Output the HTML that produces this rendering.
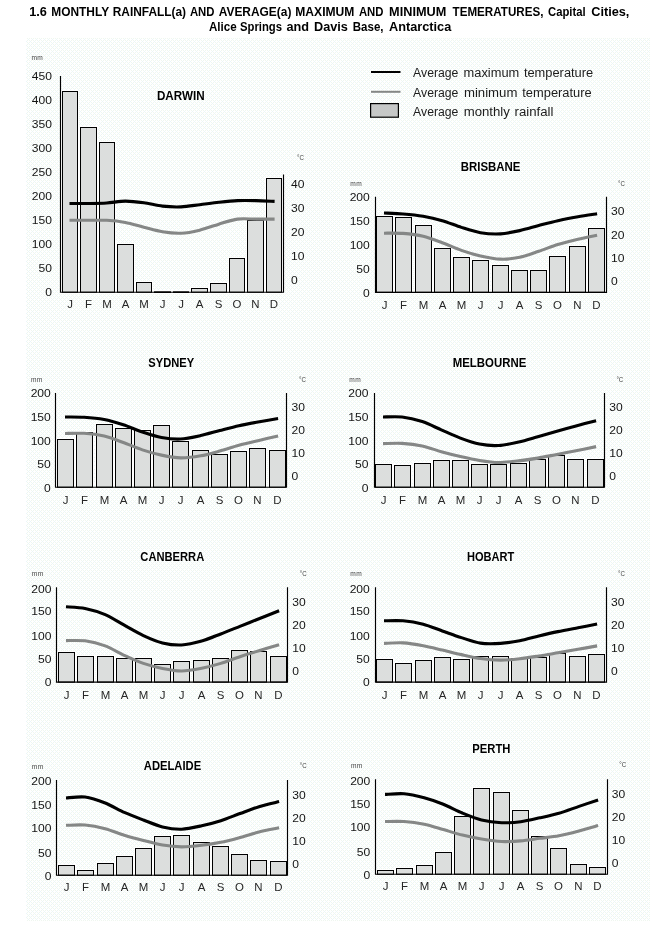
<!DOCTYPE html>
<html lang="en">
<head>
<meta charset="utf-8">
<title>1.6 Monthly rainfall and average maximum and minimum temperatures</title>
<style>
html,body{margin:0;padding:0;background:#fff;}
body{width:650px;height:937px;overflow:hidden;font-family:"Liberation Sans",sans-serif;}
svg{display:block;}
svg text{font-family:"Liberation Sans",sans-serif;}
.hd{font-size:12px;font-weight:bold;fill:#000;}
.lg{font-size:12px;fill:#1c1c1c;}
.ax{font-size:11.3px;fill:#141414;}
.mo{font-size:10.6px;fill:#262626;}
.sm{font-size:6.6px;fill:#444;letter-spacing:0.35px;}
.dc{font-size:6.8px;fill:#444;}
.ct{font-size:12px;font-weight:bold;fill:#000;}
</style>
</head>
<body>
<svg width="650" height="937" viewBox="0 0 650 937">
<rect x="0" y="0" width="650" height="937" fill="#fff"/>
<defs>
<pattern id="dither" x="0" y="0" width="4" height="4" patternUnits="userSpaceOnUse">
<rect width="4" height="4" fill="#fff"/>
<rect x="1" y="0" width="1" height="1" fill="#eff7ef"/>
<rect x="3" y="0" width="1" height="1" fill="#eff7ef"/>
<rect x="1" y="2" width="1" height="1" fill="#eff7ef"/>
<rect x="3" y="2" width="1" height="1" fill="#eff7ef"/>
<rect x="2" y="1" width="1" height="1" fill="#ebf6f9"/>
<rect x="0" y="3" width="1" height="1" fill="#ebf6f9"/>
</pattern>
</defs>
<rect x="26" y="38" width="624" height="883" fill="url(#dither)" shape-rendering="crispEdges"/>
<text class="hd" y="16"><tspan x="29.2" textLength="17.7" lengthAdjust="spacingAndGlyphs">1.6</tspan> <tspan x="51.3" textLength="57.6" lengthAdjust="spacingAndGlyphs">MONTHLY</tspan> <tspan x="112.7" textLength="73.4" lengthAdjust="spacingAndGlyphs">RAINFALL(a)</tspan> <tspan x="189.9" textLength="24.6" lengthAdjust="spacingAndGlyphs">AND</tspan> <tspan x="218.7" textLength="72.7" lengthAdjust="spacingAndGlyphs">AVERAGE(a)</tspan> <tspan x="295.3" textLength="59.1" lengthAdjust="spacingAndGlyphs">MAXIMUM</tspan> <tspan x="358.9" textLength="24.6" lengthAdjust="spacingAndGlyphs">AND</tspan> <tspan x="389.1" textLength="57.2" lengthAdjust="spacingAndGlyphs">MINIMUM</tspan> <tspan x="452.6" textLength="90.8" lengthAdjust="spacingAndGlyphs">TEMERATURES,</tspan> <tspan x="548.0" textLength="37.6" lengthAdjust="spacingAndGlyphs">Capital</tspan> <tspan x="591.2" textLength="38.2" lengthAdjust="spacingAndGlyphs">Cities,</tspan></text>
<text class="hd" y="30.6"><tspan x="209.0" textLength="27.7" lengthAdjust="spacingAndGlyphs">Alice</tspan> <tspan x="240.0" textLength="42.0" lengthAdjust="spacingAndGlyphs">Springs</tspan> <tspan x="286.4" textLength="22.6" lengthAdjust="spacingAndGlyphs">and</tspan> <tspan x="314.0" textLength="33.9" lengthAdjust="spacingAndGlyphs">Davis</tspan> <tspan x="352.8" textLength="30.7" lengthAdjust="spacingAndGlyphs">Base,</tspan> <tspan x="389.0" textLength="62.2" lengthAdjust="spacingAndGlyphs">Antarctica</tspan></text>
<g>
<line x1="371" y1="72" x2="400.5" y2="72" stroke="#000" stroke-width="2"/>
<line x1="371" y1="91.8" x2="400.5" y2="91.8" stroke="#858786" stroke-width="2"/>
<rect x="370.6" y="103.6" width="27.8" height="13.6" fill="#c6c8c7" stroke="#000" stroke-width="1.2"/>
<text class="lg" y="76.7"><tspan x="413.1" textLength="45.3" lengthAdjust="spacingAndGlyphs">Average</tspan> <tspan x="463.6" textLength="55.7" lengthAdjust="spacingAndGlyphs">maximum</tspan> <tspan x="523.9" textLength="69.3" lengthAdjust="spacingAndGlyphs">temperature</tspan></text>
<text class="lg" y="96.6"><tspan x="413.1" textLength="45.3" lengthAdjust="spacingAndGlyphs">Average</tspan> <tspan x="463.9" textLength="53.5" lengthAdjust="spacingAndGlyphs">minimum</tspan> <tspan x="522.3" textLength="69.4" lengthAdjust="spacingAndGlyphs">temperature</tspan></text>
<text class="lg" y="116.0"><tspan x="413.1" textLength="45.3" lengthAdjust="spacingAndGlyphs">Average</tspan> <tspan x="463.7" textLength="46.2" lengthAdjust="spacingAndGlyphs">monthly</tspan> <tspan x="514.6" textLength="38.9" lengthAdjust="spacingAndGlyphs">rainfall</tspan></text>
</g>
<g>
<rect x="61" y="90" width="18" height="203.7" fill="#fff"/>
<rect x="79" y="126" width="19" height="167.7" fill="#fff"/>
<rect x="98" y="141" width="18" height="152.7" fill="#fff"/>
<rect x="116" y="243" width="19" height="50.7" fill="#fff"/>
<rect x="135" y="281" width="18" height="12.7" fill="#fff"/>
<rect x="153" y="290.2" width="19" height="3.5" fill="#fff"/>
<rect x="172" y="290.2" width="18" height="3.5" fill="#fff"/>
<rect x="190" y="287" width="19" height="6.7" fill="#fff"/>
<rect x="209" y="282" width="19" height="11.7" fill="#fff"/>
<rect x="228" y="257" width="18" height="36.7" fill="#fff"/>
<rect x="246" y="219" width="19" height="74.7" fill="#fff"/>
<rect x="265" y="177" width="18" height="116.7" fill="#fff"/>
<rect x="62.5" y="91.5" width="15" height="200.7" fill="#dcdedd" stroke="#000" stroke-width="1"/>
<rect x="80.5" y="127.5" width="16" height="164.7" fill="#dcdedd" stroke="#000" stroke-width="1"/>
<rect x="99.5" y="142.5" width="15" height="149.7" fill="#dcdedd" stroke="#000" stroke-width="1"/>
<rect x="117.5" y="244.5" width="16" height="47.7" fill="#dcdedd" stroke="#000" stroke-width="1"/>
<rect x="136.5" y="282.5" width="15" height="9.7" fill="#dcdedd" stroke="#000" stroke-width="1"/>
<rect x="154" y="291.3" width="17" height="1.7" fill="#000"/>
<rect x="173" y="291.3" width="16" height="1.7" fill="#000"/>
<rect x="191.5" y="288.5" width="16" height="3.7" fill="#dcdedd" stroke="#000" stroke-width="1"/>
<rect x="210.5" y="283.5" width="16" height="8.7" fill="#dcdedd" stroke="#000" stroke-width="1"/>
<rect x="229.5" y="258.5" width="15" height="33.7" fill="#dcdedd" stroke="#000" stroke-width="1"/>
<rect x="247.5" y="220.5" width="16" height="71.7" fill="#dcdedd" stroke="#000" stroke-width="1"/>
<rect x="266.5" y="178.5" width="15" height="113.7" fill="#dcdedd" stroke="#000" stroke-width="1"/>
<path d="M60.5 76V292.2H283.5V174.5" fill="none" stroke="#000" stroke-width="1.15"/>
<path d="M69.5 220.3C72.16 220.3 82.79 220.3 88.1 220.3C93.41 220.3 101.39 219.99 106.7 220.3C112.01 220.61 119.99 221.47 125.3 222.46C130.61 223.45 138.59 225.92 143.9 227.26C149.21 228.6 157.19 230.96 162.5 231.82C167.81 232.68 175.79 233.5 181.1 233.26C186.41 233.02 194.31 231.44 199.7 230.14C205.09 228.84 213.41 225.72 218.8 224.14C224.19 222.56 232.09 219.82 237.4 219.1C242.71 218.38 250.69 219.1 256 219.1C261.31 219.1 271.94 219.1 274.6 219.1" fill="none" stroke="#858786" stroke-width="3.1" stroke-linejoin="round" stroke-linecap="butt"/>
<path d="M69.5 203.5C72.16 203.5 82.79 203.57 88.1 203.5C93.41 203.43 101.39 203.36 106.7 203.02C112.01 202.68 119.99 201.13 125.3 201.1C130.61 201.07 138.59 202.06 143.9 202.78C149.21 203.5 157.19 205.56 162.5 206.14C167.81 206.72 175.79 207.07 181.1 206.86C186.41 206.65 194.31 205.35 199.7 204.7C205.09 204.05 213.41 202.88 218.8 202.3C224.19 201.72 232.09 200.86 237.4 200.62C242.71 200.38 250.69 200.52 256 200.62C261.31 200.72 271.94 201.24 274.6 201.34" fill="none" stroke="#000" stroke-width="3.1" stroke-linejoin="round" stroke-linecap="butt"/>
<text class="ax" text-anchor="end" transform="translate(52 296.1) scale(1.07 1)">0</text>
<text class="ax" text-anchor="end" transform="translate(52 272) scale(1.07 1)">50</text>
<text class="ax" text-anchor="end" transform="translate(52 248) scale(1.07 1)">100</text>
<text class="ax" text-anchor="end" transform="translate(52 223.9) scale(1.07 1)">150</text>
<text class="ax" text-anchor="end" transform="translate(52 199.9) scale(1.07 1)">200</text>
<text class="ax" text-anchor="end" transform="translate(52 175.8) scale(1.07 1)">250</text>
<text class="ax" text-anchor="end" transform="translate(52 151.8) scale(1.07 1)">300</text>
<text class="ax" text-anchor="end" transform="translate(52 127.7) scale(1.07 1)">350</text>
<text class="ax" text-anchor="end" transform="translate(52 103.7) scale(1.07 1)">400</text>
<text class="ax" text-anchor="end" transform="translate(52 79.6) scale(1.07 1)">450</text>
<text class="ax" transform="translate(291.1 284.2) scale(1.07 1)">0</text>
<text class="ax" transform="translate(291.1 260.2) scale(1.07 1)">10</text>
<text class="ax" transform="translate(291.1 236.2) scale(1.07 1)">20</text>
<text class="ax" transform="translate(291.1 212.1) scale(1.07 1)">30</text>
<text class="ax" transform="translate(291.1 188.2) scale(1.07 1)">40</text>
<text class="mo" text-anchor="middle" transform="translate(70 307.8) scale(1.08 1)">J</text>
<text class="mo" text-anchor="middle" transform="translate(88.5 307.8) scale(1.08 1)">F</text>
<text class="mo" text-anchor="middle" transform="translate(107 307.8) scale(1.08 1)">M</text>
<text class="mo" text-anchor="middle" transform="translate(125.5 307.8) scale(1.08 1)">A</text>
<text class="mo" text-anchor="middle" transform="translate(144 307.8) scale(1.08 1)">M</text>
<text class="mo" text-anchor="middle" transform="translate(162.5 307.8) scale(1.08 1)">J</text>
<text class="mo" text-anchor="middle" transform="translate(181 307.8) scale(1.08 1)">J</text>
<text class="mo" text-anchor="middle" transform="translate(199.5 307.8) scale(1.08 1)">A</text>
<text class="mo" text-anchor="middle" transform="translate(218.5 307.8) scale(1.08 1)">S</text>
<text class="mo" text-anchor="middle" transform="translate(237 307.8) scale(1.08 1)">O</text>
<text class="mo" text-anchor="middle" transform="translate(255.5 307.8) scale(1.08 1)">N</text>
<text class="mo" text-anchor="middle" transform="translate(274 307.8) scale(1.08 1)">D</text>
<text class="sm" x="31.5" y="59.5">mm</text>
<text class="dc" x="297" y="160" textLength="6.9" lengthAdjust="spacingAndGlyphs">°C</text>
<text class="ct" text-anchor="middle" x="180.8" y="99.6" textLength="47.7" lengthAdjust="spacingAndGlyphs">DARWIN</text>
</g>
<g>
<rect x="375" y="215" width="19" height="78.8" fill="#fff"/>
<rect x="394" y="216" width="19" height="77.8" fill="#fff"/>
<rect x="414" y="224" width="19" height="69.8" fill="#fff"/>
<rect x="433" y="247" width="19" height="46.8" fill="#fff"/>
<rect x="452" y="256" width="19" height="37.8" fill="#fff"/>
<rect x="471" y="259" width="19" height="34.8" fill="#fff"/>
<rect x="491" y="264" width="19" height="29.8" fill="#fff"/>
<rect x="510" y="269" width="19" height="24.8" fill="#fff"/>
<rect x="529" y="269" width="19" height="24.8" fill="#fff"/>
<rect x="548" y="255" width="19" height="38.8" fill="#fff"/>
<rect x="568" y="245" width="19" height="48.8" fill="#fff"/>
<rect x="587" y="227" width="19" height="66.8" fill="#fff"/>
<rect x="376.5" y="216.5" width="16" height="75.8" fill="#dcdedd" stroke="#000" stroke-width="1"/>
<rect x="395.5" y="217.5" width="16" height="74.8" fill="#dcdedd" stroke="#000" stroke-width="1"/>
<rect x="415.5" y="225.5" width="16" height="66.8" fill="#dcdedd" stroke="#000" stroke-width="1"/>
<rect x="434.5" y="248.5" width="16" height="43.8" fill="#dcdedd" stroke="#000" stroke-width="1"/>
<rect x="453.5" y="257.5" width="16" height="34.8" fill="#dcdedd" stroke="#000" stroke-width="1"/>
<rect x="472.5" y="260.5" width="16" height="31.8" fill="#dcdedd" stroke="#000" stroke-width="1"/>
<rect x="492.5" y="265.5" width="16" height="26.8" fill="#dcdedd" stroke="#000" stroke-width="1"/>
<rect x="511.5" y="270.5" width="16" height="21.8" fill="#dcdedd" stroke="#000" stroke-width="1"/>
<rect x="530.5" y="270.5" width="16" height="21.8" fill="#dcdedd" stroke="#000" stroke-width="1"/>
<rect x="549.5" y="256.5" width="16" height="35.8" fill="#dcdedd" stroke="#000" stroke-width="1"/>
<rect x="569.5" y="246.5" width="16" height="45.8" fill="#dcdedd" stroke="#000" stroke-width="1"/>
<rect x="588.5" y="228.5" width="16" height="63.8" fill="#dcdedd" stroke="#000" stroke-width="1"/>
<path d="M375.5 196.8V292.3H606.5V196.8" fill="none" stroke="#000" stroke-width="1.15"/>
<path d="M384 233.18C386.73 233.21 397.5 232.98 403.1 233.41C408.7 233.84 417.6 234.87 423.2 236.19C428.8 237.52 436.84 240.67 442.3 242.69C447.76 244.71 455.94 248.45 461.4 250.34C466.86 252.23 474.9 254.65 480.5 255.91C486.1 257.17 495 258.96 500.6 259.16C506.2 259.36 514.24 258.43 519.7 257.3C525.16 256.18 533.34 253.09 538.8 251.27C544.26 249.45 552.3 246.27 557.9 244.54C563.5 242.82 572.4 240.53 578 239.21C583.6 237.88 594.37 235.83 597.1 235.26" fill="none" stroke="#858786" stroke-width="3.1" stroke-linejoin="round" stroke-linecap="butt"/>
<path d="M384 212.99C386.73 213.12 397.5 213.46 403.1 213.92C408.7 214.38 417.6 215.28 423.2 216.24C428.8 217.2 436.84 219.06 442.3 220.65C447.76 222.24 455.94 225.65 461.4 227.38C466.86 229.1 474.9 231.78 480.5 232.71C486.1 233.64 495 234.17 500.6 233.87C506.2 233.57 514.24 231.82 519.7 230.62C525.16 229.43 533.34 226.95 538.8 225.52C544.26 224.09 552.3 221.91 557.9 220.65C563.5 219.39 572.4 217.7 578 216.7C583.6 215.71 594.37 214.12 597.1 213.69" fill="none" stroke="#000" stroke-width="3.1" stroke-linejoin="round" stroke-linecap="butt"/>
<text class="ax" text-anchor="end" transform="translate(369.8 296.9) scale(1.07 1)">0</text>
<text class="ax" text-anchor="end" transform="translate(369.8 273.3) scale(1.07 1)">50</text>
<text class="ax" text-anchor="end" transform="translate(369.8 249.2) scale(1.07 1)">100</text>
<text class="ax" text-anchor="end" transform="translate(369.8 225.3) scale(1.07 1)">150</text>
<text class="ax" text-anchor="end" transform="translate(369.8 201.4) scale(1.07 1)">200</text>
<text class="ax" transform="translate(611 285.1) scale(1.07 1)">0</text>
<text class="ax" transform="translate(611 261.7) scale(1.07 1)">10</text>
<text class="ax" transform="translate(611 239.3) scale(1.07 1)">20</text>
<text class="ax" transform="translate(611 215.4) scale(1.07 1)">30</text>
<text class="mo" text-anchor="middle" transform="translate(384.5 308.5) scale(1.08 1)">J</text>
<text class="mo" text-anchor="middle" transform="translate(403.5 308.5) scale(1.08 1)">F</text>
<text class="mo" text-anchor="middle" transform="translate(423.5 308.5) scale(1.08 1)">M</text>
<text class="mo" text-anchor="middle" transform="translate(442.5 308.5) scale(1.08 1)">A</text>
<text class="mo" text-anchor="middle" transform="translate(461.5 308.5) scale(1.08 1)">M</text>
<text class="mo" text-anchor="middle" transform="translate(480.5 308.5) scale(1.08 1)">J</text>
<text class="mo" text-anchor="middle" transform="translate(500.5 308.5) scale(1.08 1)">J</text>
<text class="mo" text-anchor="middle" transform="translate(519.5 308.5) scale(1.08 1)">A</text>
<text class="mo" text-anchor="middle" transform="translate(538.5 308.5) scale(1.08 1)">S</text>
<text class="mo" text-anchor="middle" transform="translate(557.5 308.5) scale(1.08 1)">O</text>
<text class="mo" text-anchor="middle" transform="translate(577.5 308.5) scale(1.08 1)">N</text>
<text class="mo" text-anchor="middle" transform="translate(596.5 308.5) scale(1.08 1)">D</text>
<text class="sm" x="350.3" y="186">mm</text>
<text class="dc" x="618" y="185.5" textLength="6.9" lengthAdjust="spacingAndGlyphs">°C</text>
<text class="ct" text-anchor="middle" x="490.6" y="170.7" textLength="59.7" lengthAdjust="spacingAndGlyphs">BRISBANE</text>
</g>
<g>
<rect x="56" y="438" width="19" height="50.7" fill="#fff"/>
<rect x="75" y="431" width="19" height="57.7" fill="#fff"/>
<rect x="95" y="423" width="19" height="65.7" fill="#fff"/>
<rect x="114" y="427" width="19" height="61.7" fill="#fff"/>
<rect x="133" y="429" width="19" height="59.7" fill="#fff"/>
<rect x="152" y="424" width="19" height="64.7" fill="#fff"/>
<rect x="171" y="440" width="19" height="48.7" fill="#fff"/>
<rect x="191" y="449" width="19" height="39.7" fill="#fff"/>
<rect x="210" y="453" width="19" height="35.7" fill="#fff"/>
<rect x="229" y="450" width="19" height="38.7" fill="#fff"/>
<rect x="248" y="447" width="19" height="41.7" fill="#fff"/>
<rect x="268" y="449" width="19" height="39.7" fill="#fff"/>
<rect x="57.5" y="439.5" width="16" height="47.7" fill="#dcdedd" stroke="#000" stroke-width="1"/>
<rect x="76.5" y="432.5" width="16" height="54.7" fill="#dcdedd" stroke="#000" stroke-width="1"/>
<rect x="96.5" y="424.5" width="16" height="62.7" fill="#dcdedd" stroke="#000" stroke-width="1"/>
<rect x="115.5" y="428.5" width="16" height="58.7" fill="#dcdedd" stroke="#000" stroke-width="1"/>
<rect x="134.5" y="430.5" width="16" height="56.7" fill="#dcdedd" stroke="#000" stroke-width="1"/>
<rect x="153.5" y="425.5" width="16" height="61.7" fill="#dcdedd" stroke="#000" stroke-width="1"/>
<rect x="172.5" y="441.5" width="16" height="45.7" fill="#dcdedd" stroke="#000" stroke-width="1"/>
<rect x="192.5" y="450.5" width="16" height="36.7" fill="#dcdedd" stroke="#000" stroke-width="1"/>
<rect x="211.5" y="454.5" width="16" height="32.7" fill="#dcdedd" stroke="#000" stroke-width="1"/>
<rect x="230.5" y="451.5" width="16" height="35.7" fill="#dcdedd" stroke="#000" stroke-width="1"/>
<rect x="249.5" y="448.5" width="16" height="38.7" fill="#dcdedd" stroke="#000" stroke-width="1"/>
<rect x="269.5" y="450.5" width="16" height="36.7" fill="#dcdedd" stroke="#000" stroke-width="1"/>
<path d="M55.5 393.1V487.2H286.5V393.1" fill="none" stroke="#000" stroke-width="1.15"/>
<path d="M65 433.52C67.73 433.49 78.5 432.93 84.1 433.29C89.7 433.65 98.6 434.74 104.2 436.05C109.8 437.36 117.84 440.52 123.3 442.49C128.76 444.46 136.94 448.04 142.4 449.85C147.86 451.66 156.04 453.99 161.5 455.14C166.96 456.29 175 457.8 180.6 457.9C186.2 458 195.1 456.82 200.7 455.83C206.3 454.84 214.34 452.51 219.8 451C225.26 449.49 233.44 446.73 238.9 445.25C244.36 443.77 252.4 441.96 258 440.65C263.6 439.34 275.23 436.71 278.1 436.05" fill="none" stroke="#858786" stroke-width="3.1" stroke-linejoin="round" stroke-linecap="butt"/>
<path d="M65 416.96C67.73 416.99 78.5 416.83 84.1 417.19C89.7 417.55 98.6 418.41 104.2 419.49C109.8 420.57 117.84 423.01 123.3 424.78C128.76 426.55 136.94 430.1 142.4 431.91C147.86 433.72 156.04 436.41 161.5 437.43C166.96 438.45 175 439.3 180.6 439.04C186.2 438.78 195.1 436.81 200.7 435.59C206.3 434.37 214.34 431.94 219.8 430.53C225.26 429.12 233.44 426.92 238.9 425.7C244.36 424.48 252.4 423.04 258 422.02C263.6 421 275.23 419.06 278.1 418.57" fill="none" stroke="#000" stroke-width="3.1" stroke-linejoin="round" stroke-linecap="butt"/>
<text class="ax" text-anchor="end" transform="translate(50.8 492.3) scale(1.07 1)">0</text>
<text class="ax" text-anchor="end" transform="translate(50.8 468.4) scale(1.07 1)">50</text>
<text class="ax" text-anchor="end" transform="translate(50.8 445.3) scale(1.07 1)">100</text>
<text class="ax" text-anchor="end" transform="translate(50.8 421.1) scale(1.07 1)">150</text>
<text class="ax" text-anchor="end" transform="translate(50.8 397.1) scale(1.07 1)">200</text>
<text class="ax" transform="translate(291.5 480.2) scale(1.07 1)">0</text>
<text class="ax" transform="translate(291.5 457.3) scale(1.07 1)">10</text>
<text class="ax" transform="translate(291.5 434.2) scale(1.07 1)">20</text>
<text class="ax" transform="translate(291.5 411.3) scale(1.07 1)">30</text>
<text class="mo" text-anchor="middle" transform="translate(65.5 504) scale(1.08 1)">J</text>
<text class="mo" text-anchor="middle" transform="translate(84.5 504) scale(1.08 1)">F</text>
<text class="mo" text-anchor="middle" transform="translate(104.5 504) scale(1.08 1)">M</text>
<text class="mo" text-anchor="middle" transform="translate(123.5 504) scale(1.08 1)">A</text>
<text class="mo" text-anchor="middle" transform="translate(142.5 504) scale(1.08 1)">M</text>
<text class="mo" text-anchor="middle" transform="translate(161.5 504) scale(1.08 1)">J</text>
<text class="mo" text-anchor="middle" transform="translate(180.5 504) scale(1.08 1)">J</text>
<text class="mo" text-anchor="middle" transform="translate(200.5 504) scale(1.08 1)">A</text>
<text class="mo" text-anchor="middle" transform="translate(219.5 504) scale(1.08 1)">S</text>
<text class="mo" text-anchor="middle" transform="translate(238.5 504) scale(1.08 1)">O</text>
<text class="mo" text-anchor="middle" transform="translate(257.5 504) scale(1.08 1)">N</text>
<text class="mo" text-anchor="middle" transform="translate(277.5 504) scale(1.08 1)">D</text>
<text class="sm" x="31" y="382.2">mm</text>
<text class="dc" x="299" y="381.8" textLength="6.9" lengthAdjust="spacingAndGlyphs">°C</text>
<text class="ct" text-anchor="middle" x="171.3" y="366.6" textLength="45.9" lengthAdjust="spacingAndGlyphs">SYDNEY</text>
</g>
<g>
<rect x="374" y="463" width="19" height="25.7" fill="#fff"/>
<rect x="393" y="464" width="19" height="24.7" fill="#fff"/>
<rect x="413" y="462" width="19" height="26.7" fill="#fff"/>
<rect x="432" y="459" width="19" height="29.7" fill="#fff"/>
<rect x="451" y="459" width="19" height="29.7" fill="#fff"/>
<rect x="470" y="463" width="19" height="25.7" fill="#fff"/>
<rect x="489" y="463" width="19" height="25.7" fill="#fff"/>
<rect x="509" y="462" width="19" height="26.7" fill="#fff"/>
<rect x="528" y="458" width="19" height="30.7" fill="#fff"/>
<rect x="547" y="454" width="19" height="34.7" fill="#fff"/>
<rect x="566" y="458" width="19" height="30.7" fill="#fff"/>
<rect x="586" y="458" width="19" height="30.7" fill="#fff"/>
<rect x="375.5" y="464.5" width="16" height="22.7" fill="#dcdedd" stroke="#000" stroke-width="1"/>
<rect x="394.5" y="465.5" width="16" height="21.7" fill="#dcdedd" stroke="#000" stroke-width="1"/>
<rect x="414.5" y="463.5" width="16" height="23.7" fill="#dcdedd" stroke="#000" stroke-width="1"/>
<rect x="433.5" y="460.5" width="16" height="26.7" fill="#dcdedd" stroke="#000" stroke-width="1"/>
<rect x="452.5" y="460.5" width="16" height="26.7" fill="#dcdedd" stroke="#000" stroke-width="1"/>
<rect x="471.5" y="464.5" width="16" height="22.7" fill="#dcdedd" stroke="#000" stroke-width="1"/>
<rect x="490.5" y="464.5" width="16" height="22.7" fill="#dcdedd" stroke="#000" stroke-width="1"/>
<rect x="510.5" y="463.5" width="16" height="23.7" fill="#dcdedd" stroke="#000" stroke-width="1"/>
<rect x="529.5" y="459.5" width="16" height="27.7" fill="#dcdedd" stroke="#000" stroke-width="1"/>
<rect x="548.5" y="455.5" width="16" height="31.7" fill="#dcdedd" stroke="#000" stroke-width="1"/>
<rect x="567.5" y="459.5" width="16" height="27.7" fill="#dcdedd" stroke="#000" stroke-width="1"/>
<rect x="587.5" y="459.5" width="16" height="27.7" fill="#dcdedd" stroke="#000" stroke-width="1"/>
<path d="M374.5 393.1V487.2H604.5V393.1" fill="none" stroke="#000" stroke-width="1.15"/>
<path d="M383 443.64C385.73 443.61 396.5 443.08 402.1 443.41C407.7 443.74 416.6 444.76 422.2 445.94C427.8 447.12 435.84 450.18 441.3 451.69C446.76 453.2 454.94 455.27 460.4 456.52C465.86 457.77 474.04 459.58 479.5 460.43C484.96 461.28 493 462.43 498.6 462.5C504.2 462.57 513.1 461.51 518.7 460.89C524.3 460.27 532.34 459.05 537.8 458.13C543.26 457.21 551.44 455.5 556.9 454.45C562.36 453.4 570.4 451.89 576 450.77C581.6 449.65 593.23 447.22 596.1 446.63" fill="none" stroke="#858786" stroke-width="3.1" stroke-linejoin="round" stroke-linecap="butt"/>
<path d="M383 416.96C385.73 416.96 396.5 416.3 402.1 416.96C407.7 417.62 416.6 419.72 422.2 421.56C427.8 423.4 435.84 427.47 441.3 429.84C446.76 432.21 454.94 436.08 460.4 438.12C465.86 440.16 474.04 443.05 479.5 444.1C484.96 445.15 493 445.78 498.6 445.48C504.2 445.18 513.1 443.28 518.7 442.03C524.3 440.78 532.34 438.28 537.8 436.74C543.26 435.2 551.44 432.76 556.9 431.22C562.36 429.68 570.4 427.44 576 425.93C581.6 424.42 593.23 421.4 596.1 420.64" fill="none" stroke="#000" stroke-width="3.1" stroke-linejoin="round" stroke-linecap="butt"/>
<text class="ax" text-anchor="end" transform="translate(368.5 492.3) scale(1.07 1)">0</text>
<text class="ax" text-anchor="end" transform="translate(368.5 468.4) scale(1.07 1)">50</text>
<text class="ax" text-anchor="end" transform="translate(368.5 445.3) scale(1.07 1)">100</text>
<text class="ax" text-anchor="end" transform="translate(368.5 421.1) scale(1.07 1)">150</text>
<text class="ax" text-anchor="end" transform="translate(368.5 397.1) scale(1.07 1)">200</text>
<text class="ax" transform="translate(609.3 480.2) scale(1.07 1)">0</text>
<text class="ax" transform="translate(609.3 457.3) scale(1.07 1)">10</text>
<text class="ax" transform="translate(609.3 434.2) scale(1.07 1)">20</text>
<text class="ax" transform="translate(609.3 411.3) scale(1.07 1)">30</text>
<text class="mo" text-anchor="middle" transform="translate(383.5 504) scale(1.08 1)">J</text>
<text class="mo" text-anchor="middle" transform="translate(402.5 504) scale(1.08 1)">F</text>
<text class="mo" text-anchor="middle" transform="translate(422.5 504) scale(1.08 1)">M</text>
<text class="mo" text-anchor="middle" transform="translate(441.5 504) scale(1.08 1)">A</text>
<text class="mo" text-anchor="middle" transform="translate(460.5 504) scale(1.08 1)">M</text>
<text class="mo" text-anchor="middle" transform="translate(479.5 504) scale(1.08 1)">J</text>
<text class="mo" text-anchor="middle" transform="translate(498.5 504) scale(1.08 1)">J</text>
<text class="mo" text-anchor="middle" transform="translate(518.5 504) scale(1.08 1)">A</text>
<text class="mo" text-anchor="middle" transform="translate(537.5 504) scale(1.08 1)">S</text>
<text class="mo" text-anchor="middle" transform="translate(556.5 504) scale(1.08 1)">O</text>
<text class="mo" text-anchor="middle" transform="translate(575.5 504) scale(1.08 1)">N</text>
<text class="mo" text-anchor="middle" transform="translate(595.5 504) scale(1.08 1)">D</text>
<text class="sm" x="349.3" y="382.2">mm</text>
<text class="dc" x="616.4" y="381.8" textLength="6.9" lengthAdjust="spacingAndGlyphs">°C</text>
<text class="ct" text-anchor="middle" x="489.5" y="366.6" textLength="73.5" lengthAdjust="spacingAndGlyphs">MELBOURNE</text>
</g>
<g>
<rect x="57" y="651" width="19" height="32.6" fill="#fff"/>
<rect x="76" y="655" width="19" height="28.6" fill="#fff"/>
<rect x="96" y="655" width="19" height="28.6" fill="#fff"/>
<rect x="115" y="657" width="19" height="26.6" fill="#fff"/>
<rect x="134" y="657" width="19" height="26.6" fill="#fff"/>
<rect x="153" y="663" width="19" height="20.6" fill="#fff"/>
<rect x="172" y="660" width="19" height="23.6" fill="#fff"/>
<rect x="192" y="659" width="19" height="24.6" fill="#fff"/>
<rect x="211" y="657" width="19" height="26.6" fill="#fff"/>
<rect x="230" y="649" width="19" height="34.6" fill="#fff"/>
<rect x="249" y="650" width="19" height="33.6" fill="#fff"/>
<rect x="269" y="655" width="19" height="28.6" fill="#fff"/>
<rect x="58.5" y="652.5" width="16" height="29.6" fill="#dcdedd" stroke="#000" stroke-width="1"/>
<rect x="77.5" y="656.5" width="16" height="25.6" fill="#dcdedd" stroke="#000" stroke-width="1"/>
<rect x="97.5" y="656.5" width="16" height="25.6" fill="#dcdedd" stroke="#000" stroke-width="1"/>
<rect x="116.5" y="658.5" width="16" height="23.6" fill="#dcdedd" stroke="#000" stroke-width="1"/>
<rect x="135.5" y="658.5" width="16" height="23.6" fill="#dcdedd" stroke="#000" stroke-width="1"/>
<rect x="154.5" y="664.5" width="16" height="17.6" fill="#dcdedd" stroke="#000" stroke-width="1"/>
<rect x="173.5" y="661.5" width="16" height="20.6" fill="#dcdedd" stroke="#000" stroke-width="1"/>
<rect x="193.5" y="660.5" width="16" height="21.6" fill="#dcdedd" stroke="#000" stroke-width="1"/>
<rect x="212.5" y="658.5" width="16" height="23.6" fill="#dcdedd" stroke="#000" stroke-width="1"/>
<rect x="231.5" y="650.5" width="16" height="31.6" fill="#dcdedd" stroke="#000" stroke-width="1"/>
<rect x="250.5" y="651.5" width="16" height="30.6" fill="#dcdedd" stroke="#000" stroke-width="1"/>
<rect x="270.5" y="656.5" width="16" height="25.6" fill="#dcdedd" stroke="#000" stroke-width="1"/>
<path d="M56.5 587.3V682.1H287.5V587.3" fill="none" stroke="#000" stroke-width="1.15"/>
<path d="M66 640.6C68.73 640.63 79.5 640.07 85.1 640.83C90.7 641.59 99.6 643.82 105.2 645.89C110.8 647.96 118.84 652.82 124.3 655.32C129.76 657.82 137.94 661.5 143.4 663.37C148.86 665.24 157.04 667.35 162.5 668.43C167.96 669.51 176 670.99 181.6 670.96C187.2 670.93 196.1 669.28 201.7 668.2C207.3 667.12 215.34 665.01 220.8 663.37C226.26 661.73 234.44 658.51 239.9 656.7C245.36 654.89 253.4 652.43 259 650.72C264.6 649.01 276.23 645.59 279.1 644.74" fill="none" stroke="#858786" stroke-width="3.1" stroke-linejoin="round" stroke-linecap="butt"/>
<path d="M66 606.79C68.73 607.02 79.5 607.28 85.1 608.4C90.7 609.52 99.6 612.21 105.2 614.61C110.8 617.01 118.84 622.2 124.3 625.19C129.76 628.18 137.94 633.01 143.4 635.54C148.86 638.07 157.04 641.55 162.5 642.9C167.96 644.25 176 645.23 181.6 644.97C187.2 644.71 196.1 642.64 201.7 641.06C207.3 639.48 215.34 636.03 220.8 633.93C226.26 631.83 234.44 628.51 239.9 626.34C245.36 624.17 253.4 620.98 259 618.75C264.6 616.52 276.23 611.85 279.1 610.7" fill="none" stroke="#000" stroke-width="3.1" stroke-linejoin="round" stroke-linecap="butt"/>
<text class="ax" text-anchor="end" transform="translate(51.5 686.3) scale(1.07 1)">0</text>
<text class="ax" text-anchor="end" transform="translate(51.5 663.4) scale(1.07 1)">50</text>
<text class="ax" text-anchor="end" transform="translate(51.5 639.5) scale(1.07 1)">100</text>
<text class="ax" text-anchor="end" transform="translate(51.5 615.4) scale(1.07 1)">150</text>
<text class="ax" text-anchor="end" transform="translate(51.5 592.7) scale(1.07 1)">200</text>
<text class="ax" transform="translate(292.3 675.2) scale(1.07 1)">0</text>
<text class="ax" transform="translate(292.3 652.3) scale(1.07 1)">10</text>
<text class="ax" transform="translate(292.3 629.2) scale(1.07 1)">20</text>
<text class="ax" transform="translate(292.3 606.3) scale(1.07 1)">30</text>
<text class="mo" text-anchor="middle" transform="translate(66.5 698.5) scale(1.08 1)">J</text>
<text class="mo" text-anchor="middle" transform="translate(85.5 698.5) scale(1.08 1)">F</text>
<text class="mo" text-anchor="middle" transform="translate(105.5 698.5) scale(1.08 1)">M</text>
<text class="mo" text-anchor="middle" transform="translate(124.5 698.5) scale(1.08 1)">A</text>
<text class="mo" text-anchor="middle" transform="translate(143.5 698.5) scale(1.08 1)">M</text>
<text class="mo" text-anchor="middle" transform="translate(162.5 698.5) scale(1.08 1)">J</text>
<text class="mo" text-anchor="middle" transform="translate(181.5 698.5) scale(1.08 1)">J</text>
<text class="mo" text-anchor="middle" transform="translate(201.5 698.5) scale(1.08 1)">A</text>
<text class="mo" text-anchor="middle" transform="translate(220.5 698.5) scale(1.08 1)">S</text>
<text class="mo" text-anchor="middle" transform="translate(239.5 698.5) scale(1.08 1)">O</text>
<text class="mo" text-anchor="middle" transform="translate(258.5 698.5) scale(1.08 1)">N</text>
<text class="mo" text-anchor="middle" transform="translate(278.5 698.5) scale(1.08 1)">D</text>
<text class="sm" x="31.8" y="576.2">mm</text>
<text class="dc" x="299.8" y="575.9" textLength="6.9" lengthAdjust="spacingAndGlyphs">°C</text>
<text class="ct" text-anchor="middle" x="172.3" y="560.7" textLength="63.9" lengthAdjust="spacingAndGlyphs">CANBERRA</text>
</g>
<g>
<rect x="375" y="658" width="19" height="25.6" fill="#fff"/>
<rect x="394" y="662" width="19" height="21.6" fill="#fff"/>
<rect x="414" y="659" width="19" height="24.6" fill="#fff"/>
<rect x="433" y="656" width="19" height="27.6" fill="#fff"/>
<rect x="452" y="658" width="19" height="25.6" fill="#fff"/>
<rect x="471" y="655" width="19" height="28.6" fill="#fff"/>
<rect x="491" y="655" width="19" height="28.6" fill="#fff"/>
<rect x="510" y="657" width="19" height="26.6" fill="#fff"/>
<rect x="529" y="656" width="19" height="27.6" fill="#fff"/>
<rect x="548" y="652" width="19" height="31.6" fill="#fff"/>
<rect x="568" y="655" width="19" height="28.6" fill="#fff"/>
<rect x="587" y="653" width="19" height="30.6" fill="#fff"/>
<rect x="376.5" y="659.5" width="16" height="22.6" fill="#dcdedd" stroke="#000" stroke-width="1"/>
<rect x="395.5" y="663.5" width="16" height="18.6" fill="#dcdedd" stroke="#000" stroke-width="1"/>
<rect x="415.5" y="660.5" width="16" height="21.6" fill="#dcdedd" stroke="#000" stroke-width="1"/>
<rect x="434.5" y="657.5" width="16" height="24.6" fill="#dcdedd" stroke="#000" stroke-width="1"/>
<rect x="453.5" y="659.5" width="16" height="22.6" fill="#dcdedd" stroke="#000" stroke-width="1"/>
<rect x="472.5" y="656.5" width="16" height="25.6" fill="#dcdedd" stroke="#000" stroke-width="1"/>
<rect x="492.5" y="656.5" width="16" height="25.6" fill="#dcdedd" stroke="#000" stroke-width="1"/>
<rect x="511.5" y="658.5" width="16" height="23.6" fill="#dcdedd" stroke="#000" stroke-width="1"/>
<rect x="530.5" y="657.5" width="16" height="24.6" fill="#dcdedd" stroke="#000" stroke-width="1"/>
<rect x="549.5" y="653.5" width="16" height="28.6" fill="#dcdedd" stroke="#000" stroke-width="1"/>
<rect x="569.5" y="656.5" width="16" height="25.6" fill="#dcdedd" stroke="#000" stroke-width="1"/>
<rect x="588.5" y="654.5" width="16" height="27.6" fill="#dcdedd" stroke="#000" stroke-width="1"/>
<path d="M375.5 587.3V682.1H606.5V587.3" fill="none" stroke="#000" stroke-width="1.15"/>
<path d="M384 643.36C386.73 643.29 397.5 642.57 403.1 642.9C408.7 643.23 417.6 644.64 423.2 645.66C428.8 646.68 436.84 648.75 442.3 650.03C447.76 651.31 455.94 653.41 461.4 654.63C466.86 655.85 474.9 657.75 480.5 658.54C486.1 659.33 495 660.12 500.6 660.15C506.2 660.18 514.24 659.36 519.7 658.77C525.16 658.18 533.34 656.86 538.8 656.01C544.26 655.16 552.3 653.74 557.9 652.79C563.5 651.84 572.4 650.33 578 649.34C583.6 648.35 594.37 646.38 597.1 645.89" fill="none" stroke="#858786" stroke-width="3.1" stroke-linejoin="round" stroke-linecap="butt"/>
<path d="M384 620.82C386.73 620.82 397.5 620.33 403.1 620.82C408.7 621.31 417.6 622.82 423.2 624.27C428.8 625.72 436.84 629.03 442.3 630.94C447.76 632.85 455.94 635.87 461.4 637.61C466.86 639.35 474.9 642.31 480.5 643.13C486.1 643.95 495 643.69 500.6 643.36C506.2 643.03 514.24 641.88 519.7 640.83C525.16 639.78 533.34 637.31 538.8 636C544.26 634.69 552.3 632.81 557.9 631.63C563.5 630.45 572.4 628.8 578 627.72C583.6 626.64 594.37 624.57 597.1 624.04" fill="none" stroke="#000" stroke-width="3.1" stroke-linejoin="round" stroke-linecap="butt"/>
<text class="ax" text-anchor="end" transform="translate(369.8 686.3) scale(1.07 1)">0</text>
<text class="ax" text-anchor="end" transform="translate(369.8 663.4) scale(1.07 1)">50</text>
<text class="ax" text-anchor="end" transform="translate(369.8 639.5) scale(1.07 1)">100</text>
<text class="ax" text-anchor="end" transform="translate(369.8 615.4) scale(1.07 1)">150</text>
<text class="ax" text-anchor="end" transform="translate(369.8 592.7) scale(1.07 1)">200</text>
<text class="ax" transform="translate(611 675.2) scale(1.07 1)">0</text>
<text class="ax" transform="translate(611 652.3) scale(1.07 1)">10</text>
<text class="ax" transform="translate(611 629.2) scale(1.07 1)">20</text>
<text class="ax" transform="translate(611 606.3) scale(1.07 1)">30</text>
<text class="mo" text-anchor="middle" transform="translate(384.5 698.5) scale(1.08 1)">J</text>
<text class="mo" text-anchor="middle" transform="translate(403.5 698.5) scale(1.08 1)">F</text>
<text class="mo" text-anchor="middle" transform="translate(423.5 698.5) scale(1.08 1)">M</text>
<text class="mo" text-anchor="middle" transform="translate(442.5 698.5) scale(1.08 1)">A</text>
<text class="mo" text-anchor="middle" transform="translate(461.5 698.5) scale(1.08 1)">M</text>
<text class="mo" text-anchor="middle" transform="translate(480.5 698.5) scale(1.08 1)">J</text>
<text class="mo" text-anchor="middle" transform="translate(500.5 698.5) scale(1.08 1)">J</text>
<text class="mo" text-anchor="middle" transform="translate(519.5 698.5) scale(1.08 1)">A</text>
<text class="mo" text-anchor="middle" transform="translate(538.5 698.5) scale(1.08 1)">S</text>
<text class="mo" text-anchor="middle" transform="translate(557.5 698.5) scale(1.08 1)">O</text>
<text class="mo" text-anchor="middle" transform="translate(577.5 698.5) scale(1.08 1)">N</text>
<text class="mo" text-anchor="middle" transform="translate(596.5 698.5) scale(1.08 1)">D</text>
<text class="sm" x="350.3" y="576.2">mm</text>
<text class="dc" x="618" y="575.9" textLength="6.9" lengthAdjust="spacingAndGlyphs">°C</text>
<text class="ct" text-anchor="middle" x="490.6" y="560.7" textLength="47.3" lengthAdjust="spacingAndGlyphs">HOBART</text>
</g>
<g>
<rect x="57" y="864" width="19" height="12.7" fill="#fff"/>
<rect x="76" y="869" width="19" height="7.7" fill="#fff"/>
<rect x="96" y="862" width="19" height="14.7" fill="#fff"/>
<rect x="115" y="855" width="19" height="21.7" fill="#fff"/>
<rect x="134" y="847" width="19" height="29.7" fill="#fff"/>
<rect x="153" y="835" width="19" height="41.7" fill="#fff"/>
<rect x="172" y="834" width="19" height="42.7" fill="#fff"/>
<rect x="192" y="841" width="19" height="35.7" fill="#fff"/>
<rect x="211" y="845" width="19" height="31.7" fill="#fff"/>
<rect x="230" y="853" width="19" height="23.7" fill="#fff"/>
<rect x="249" y="859" width="19" height="17.7" fill="#fff"/>
<rect x="269" y="860" width="19" height="16.7" fill="#fff"/>
<rect x="58.5" y="865.5" width="16" height="9.7" fill="#dcdedd" stroke="#000" stroke-width="1"/>
<rect x="77.5" y="870.5" width="16" height="4.7" fill="#dcdedd" stroke="#000" stroke-width="1"/>
<rect x="97.5" y="863.5" width="16" height="11.7" fill="#dcdedd" stroke="#000" stroke-width="1"/>
<rect x="116.5" y="856.5" width="16" height="18.7" fill="#dcdedd" stroke="#000" stroke-width="1"/>
<rect x="135.5" y="848.5" width="16" height="26.7" fill="#dcdedd" stroke="#000" stroke-width="1"/>
<rect x="154.5" y="836.5" width="16" height="38.7" fill="#dcdedd" stroke="#000" stroke-width="1"/>
<rect x="173.5" y="835.5" width="16" height="39.7" fill="#dcdedd" stroke="#000" stroke-width="1"/>
<rect x="193.5" y="842.5" width="16" height="32.7" fill="#dcdedd" stroke="#000" stroke-width="1"/>
<rect x="212.5" y="846.5" width="16" height="28.7" fill="#dcdedd" stroke="#000" stroke-width="1"/>
<rect x="231.5" y="854.5" width="16" height="20.7" fill="#dcdedd" stroke="#000" stroke-width="1"/>
<rect x="250.5" y="860.5" width="16" height="14.7" fill="#dcdedd" stroke="#000" stroke-width="1"/>
<rect x="270.5" y="861.5" width="16" height="13.7" fill="#dcdedd" stroke="#000" stroke-width="1"/>
<path d="M56.5 780.1V875.2H287.5V780.1" fill="none" stroke="#000" stroke-width="1.15"/>
<path d="M66 825.3C68.73 825.27 79.5 824.58 85.1 825.07C90.7 825.56 99.6 827.3 105.2 828.75C110.8 830.2 118.84 833.51 124.3 835.19C129.76 836.87 137.94 839.07 143.4 840.48C148.86 841.89 157.04 844.16 162.5 845.08C167.96 846 176 846.89 181.6 846.92C187.2 846.95 196.1 845.97 201.7 845.31C207.3 844.65 215.34 843.44 220.8 842.32C226.26 841.2 234.44 838.97 239.9 837.49C245.36 836.01 253.4 833.35 259 831.97C264.6 830.59 276.23 828.42 279.1 827.83" fill="none" stroke="#858786" stroke-width="3.1" stroke-linejoin="round" stroke-linecap="butt"/>
<path d="M66 797.93C68.73 797.8 79.5 796.29 85.1 797.01C90.7 797.73 99.6 800.79 105.2 802.99C110.8 805.19 118.84 809.99 124.3 812.42C129.76 814.85 137.94 817.94 143.4 820.01C148.86 822.08 157.04 825.6 162.5 826.91C167.96 828.22 176 829.37 181.6 829.21C187.2 829.05 196.1 826.98 201.7 825.76C207.3 824.54 215.34 822.44 220.8 820.7C226.26 818.96 234.44 815.57 239.9 813.57C245.36 811.57 253.4 808.38 259 806.67C264.6 804.96 276.23 802.33 279.1 801.61" fill="none" stroke="#000" stroke-width="3.1" stroke-linejoin="round" stroke-linecap="butt"/>
<text class="ax" text-anchor="end" transform="translate(51.5 879.9) scale(1.07 1)">0</text>
<text class="ax" text-anchor="end" transform="translate(51.5 856.5) scale(1.07 1)">50</text>
<text class="ax" text-anchor="end" transform="translate(51.5 832.1) scale(1.07 1)">100</text>
<text class="ax" text-anchor="end" transform="translate(51.5 809.2) scale(1.07 1)">150</text>
<text class="ax" text-anchor="end" transform="translate(51.5 785.3) scale(1.07 1)">200</text>
<text class="ax" transform="translate(292.3 868.3) scale(1.07 1)">0</text>
<text class="ax" transform="translate(292.3 845.1) scale(1.07 1)">10</text>
<text class="ax" transform="translate(292.3 822.2) scale(1.07 1)">20</text>
<text class="ax" transform="translate(292.3 799.3) scale(1.07 1)">30</text>
<text class="mo" text-anchor="middle" transform="translate(66.5 891.2) scale(1.08 1)">J</text>
<text class="mo" text-anchor="middle" transform="translate(85.5 891.2) scale(1.08 1)">F</text>
<text class="mo" text-anchor="middle" transform="translate(105.5 891.2) scale(1.08 1)">M</text>
<text class="mo" text-anchor="middle" transform="translate(124.5 891.2) scale(1.08 1)">A</text>
<text class="mo" text-anchor="middle" transform="translate(143.5 891.2) scale(1.08 1)">M</text>
<text class="mo" text-anchor="middle" transform="translate(162.5 891.2) scale(1.08 1)">J</text>
<text class="mo" text-anchor="middle" transform="translate(181.5 891.2) scale(1.08 1)">J</text>
<text class="mo" text-anchor="middle" transform="translate(201.5 891.2) scale(1.08 1)">A</text>
<text class="mo" text-anchor="middle" transform="translate(220.5 891.2) scale(1.08 1)">S</text>
<text class="mo" text-anchor="middle" transform="translate(239.5 891.2) scale(1.08 1)">O</text>
<text class="mo" text-anchor="middle" transform="translate(258.5 891.2) scale(1.08 1)">N</text>
<text class="mo" text-anchor="middle" transform="translate(278.5 891.2) scale(1.08 1)">D</text>
<text class="sm" x="31.8" y="768.8">mm</text>
<text class="dc" x="299.8" y="768.4" textLength="6.9" lengthAdjust="spacingAndGlyphs">°C</text>
<text class="ct" text-anchor="middle" x="172.5" y="769.5" textLength="57.4" lengthAdjust="spacingAndGlyphs">ADELAIDE</text>
</g>
<g>
<rect x="376" y="869" width="19" height="6.7" fill="#fff"/>
<rect x="395" y="867" width="19" height="8.7" fill="#fff"/>
<rect x="415" y="864" width="19" height="11.7" fill="#fff"/>
<rect x="434" y="851" width="19" height="24.7" fill="#fff"/>
<rect x="453" y="815" width="19" height="60.7" fill="#fff"/>
<rect x="472" y="787" width="19" height="88.7" fill="#fff"/>
<rect x="492" y="791" width="19" height="84.7" fill="#fff"/>
<rect x="511" y="809" width="19" height="66.7" fill="#fff"/>
<rect x="530" y="835" width="19" height="40.7" fill="#fff"/>
<rect x="549" y="847" width="19" height="28.7" fill="#fff"/>
<rect x="569" y="863" width="19" height="12.7" fill="#fff"/>
<rect x="588" y="866" width="19" height="9.7" fill="#fff"/>
<rect x="377.5" y="870.5" width="16" height="3.7" fill="#dcdedd" stroke="#000" stroke-width="1"/>
<rect x="396.5" y="868.5" width="16" height="5.7" fill="#dcdedd" stroke="#000" stroke-width="1"/>
<rect x="416.5" y="865.5" width="16" height="8.7" fill="#dcdedd" stroke="#000" stroke-width="1"/>
<rect x="435.5" y="852.5" width="16" height="21.7" fill="#dcdedd" stroke="#000" stroke-width="1"/>
<rect x="454.5" y="816.5" width="16" height="57.7" fill="#dcdedd" stroke="#000" stroke-width="1"/>
<rect x="473.5" y="788.5" width="16" height="85.7" fill="#dcdedd" stroke="#000" stroke-width="1"/>
<rect x="493.5" y="792.5" width="16" height="81.7" fill="#dcdedd" stroke="#000" stroke-width="1"/>
<rect x="512.5" y="810.5" width="16" height="63.7" fill="#dcdedd" stroke="#000" stroke-width="1"/>
<rect x="531.5" y="836.5" width="16" height="37.7" fill="#dcdedd" stroke="#000" stroke-width="1"/>
<rect x="550.5" y="848.5" width="16" height="25.7" fill="#dcdedd" stroke="#000" stroke-width="1"/>
<rect x="570.5" y="864.5" width="16" height="9.7" fill="#dcdedd" stroke="#000" stroke-width="1"/>
<rect x="589.5" y="867.5" width="16" height="6.7" fill="#dcdedd" stroke="#000" stroke-width="1"/>
<path d="M375.5 779.2V874.2H607.5V779.2" fill="none" stroke="#000" stroke-width="1.15"/>
<path d="M385 821.54C387.73 821.54 398.5 821.15 404.1 821.54C409.7 821.93 418.6 823.15 424.2 824.3C429.8 825.45 437.84 828.05 443.3 829.59C448.76 831.13 456.94 833.76 462.4 835.11C467.86 836.46 475.9 838.1 481.5 839.02C487.1 839.94 496 841.29 501.6 841.55C507.2 841.81 515.24 841.32 520.7 840.86C526.16 840.4 534.34 839.05 539.8 838.33C545.26 837.61 553.3 836.85 558.9 835.8C564.5 834.75 573.4 832.45 579 830.97C584.6 829.49 595.37 826.24 598.1 825.45" fill="none" stroke="#858786" stroke-width="3.1" stroke-linejoin="round" stroke-linecap="butt"/>
<path d="M385 794.4C387.73 794.3 398.5 793.22 404.1 793.71C409.7 794.2 418.6 796.34 424.2 797.85C429.8 799.36 437.84 802.12 443.3 804.29C448.76 806.46 456.94 810.8 462.4 813.03C467.86 815.26 475.9 818.55 481.5 819.93C487.1 821.31 496 822.43 501.6 822.69C507.2 822.95 515.24 822.46 520.7 821.77C526.16 821.08 534.34 819.08 539.8 817.86C545.26 816.64 553.3 814.9 558.9 813.26C564.5 811.62 573.4 808.27 579 806.36C584.6 804.45 595.37 800.84 598.1 799.92" fill="none" stroke="#000" stroke-width="3.1" stroke-linejoin="round" stroke-linecap="butt"/>
<text class="ax" text-anchor="end" transform="translate(370.3 878.9) scale(1.07 1)">0</text>
<text class="ax" text-anchor="end" transform="translate(370.3 855.5) scale(1.07 1)">50</text>
<text class="ax" text-anchor="end" transform="translate(370.3 831.3) scale(1.07 1)">100</text>
<text class="ax" text-anchor="end" transform="translate(370.3 808.2) scale(1.07 1)">150</text>
<text class="ax" text-anchor="end" transform="translate(370.3 784.8) scale(1.07 1)">200</text>
<text class="ax" transform="translate(611.8 867.3) scale(1.07 1)">0</text>
<text class="ax" transform="translate(611.8 844.1) scale(1.07 1)">10</text>
<text class="ax" transform="translate(611.8 821.2) scale(1.07 1)">20</text>
<text class="ax" transform="translate(611.8 798.3) scale(1.07 1)">30</text>
<text class="mo" text-anchor="middle" transform="translate(385.5 890.2) scale(1.08 1)">J</text>
<text class="mo" text-anchor="middle" transform="translate(404.5 890.2) scale(1.08 1)">F</text>
<text class="mo" text-anchor="middle" transform="translate(424.5 890.2) scale(1.08 1)">M</text>
<text class="mo" text-anchor="middle" transform="translate(443.5 890.2) scale(1.08 1)">A</text>
<text class="mo" text-anchor="middle" transform="translate(462.5 890.2) scale(1.08 1)">M</text>
<text class="mo" text-anchor="middle" transform="translate(481.5 890.2) scale(1.08 1)">J</text>
<text class="mo" text-anchor="middle" transform="translate(501.5 890.2) scale(1.08 1)">J</text>
<text class="mo" text-anchor="middle" transform="translate(520.5 890.2) scale(1.08 1)">A</text>
<text class="mo" text-anchor="middle" transform="translate(539.5 890.2) scale(1.08 1)">S</text>
<text class="mo" text-anchor="middle" transform="translate(558.5 890.2) scale(1.08 1)">O</text>
<text class="mo" text-anchor="middle" transform="translate(578.5 890.2) scale(1.08 1)">N</text>
<text class="mo" text-anchor="middle" transform="translate(597.5 890.2) scale(1.08 1)">D</text>
<text class="sm" x="351" y="768.1">mm</text>
<text class="dc" x="619.3" y="767.4" textLength="6.9" lengthAdjust="spacingAndGlyphs">°C</text>
<text class="ct" text-anchor="middle" x="491.4" y="752.5" textLength="38.1" lengthAdjust="spacingAndGlyphs">PERTH</text>
</g>
</svg>
</body>
</html>
